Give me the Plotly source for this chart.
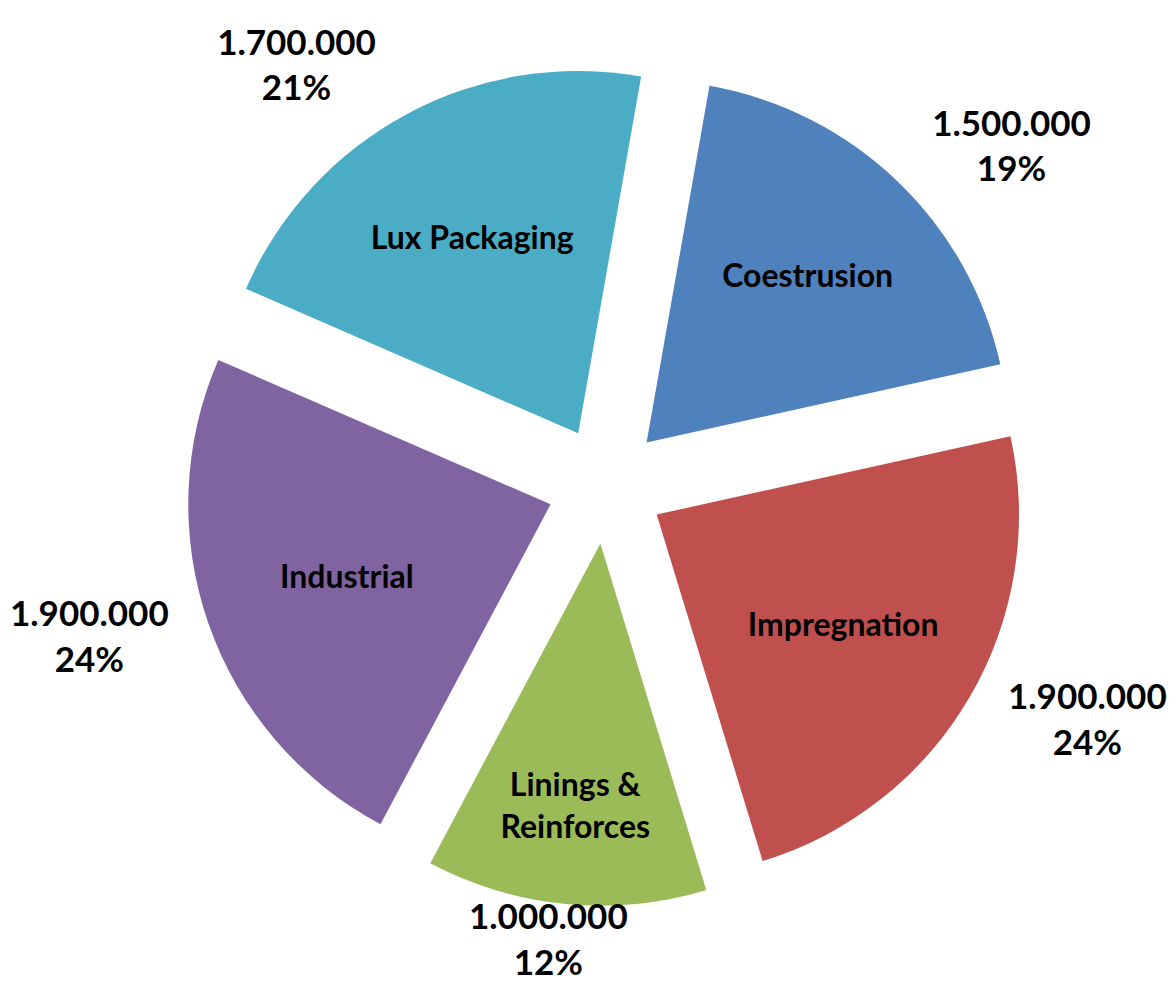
import math
import plotly.graph_objects as go

categories = ["Coestrusion", "Impregnation", "Linings &<br>Reinforces", "Industrial", "Lux Packaging"]
values = [1500000, 1900000, 1000000, 1900000, 1700000]
pct_labels = ["19%", "24%", "12%", "24%", "21%"]
colors = ["#4F81BD", "#C0504D", "#9BBB59", "#8064A2", "#4BACC6"]

W, H = 1176, 990
value_labels = [f"{v:,}".replace(",", ".") for v in values]
outside_text = [f"{v}<br>{p}" for v, p in zip(value_labels, pct_labels)]

# pie geometry (pixels)
cx, cy = 606, 485
pie_half = 421       # radius incl. pull
label_half = 440     # radius where outside labels sit
pull_frac = 0.162
rotation = 10


def dom(half):
    return dict(x=[(cx - half) / W, (cx + half) / W],
                y=[1 - (cy + half) / H, 1 - (cy - half) / H])


# the bottom (small) slice gets a centred label below it; others use plotly's outside text
bottom_idx = 2
trace_text = [t if i != bottom_idx else "" for i, t in enumerate(outside_text)]

fig = go.Figure()
fig.add_trace(go.Pie(
    labels=categories, values=values, sort=False, direction="clockwise",
    rotation=rotation, pull=[pull_frac] * len(values), domain=dom(pie_half),
    marker=dict(colors=colors, line=dict(width=0)),
    text=categories, textinfo="text", textposition="inside",
    insidetextorientation="horizontal",
    insidetextfont=dict(family="Lato", size=32, color="#000000", weight="bold"),
    hoverinfo="skip", showlegend=False,
))
fig.add_trace(go.Pie(
    labels=categories, values=values, sort=False, direction="clockwise",
    rotation=rotation, domain=dom(label_half),
    marker=dict(colors=["rgba(0,0,0,0)"] * len(values), line=dict(width=0)),
    text=trace_text, textinfo="text", textposition="outside",
    outsidetextfont=dict(family="Lato", size=35, color="#000000", weight="bold"),
    hoverinfo="skip", showlegend=False,
))

# label for the bottom slice, placed at its mid-angle
total = sum(values)
start = sum(values[:bottom_idx])
mid = math.radians(rotation + 360 * (start + values[bottom_idx] / 2) / total)
r_lab = 410
px = cx + r_lab * math.sin(mid) - 18
py = cy - r_lab * math.cos(mid)
fig.add_annotation(
    x=px / W, y=1 - py / H, xref="paper", yref="paper",
    text=outside_text[bottom_idx], showarrow=False,
    xanchor="center", yanchor="top", borderpad=0,
    font=dict(family="Lato", size=35, color="#000000", weight="bold"),
)

fig.update_layout(
    width=W, height=H,
    margin=dict(l=0, r=0, t=0, b=0, autoexpand=False),
    paper_bgcolor="white", plot_bgcolor="white",
    showlegend=False,
)
fig.write_html("out.html", config={"displayModeBar": False},
               post_script="document.body.style.margin='0px';")
